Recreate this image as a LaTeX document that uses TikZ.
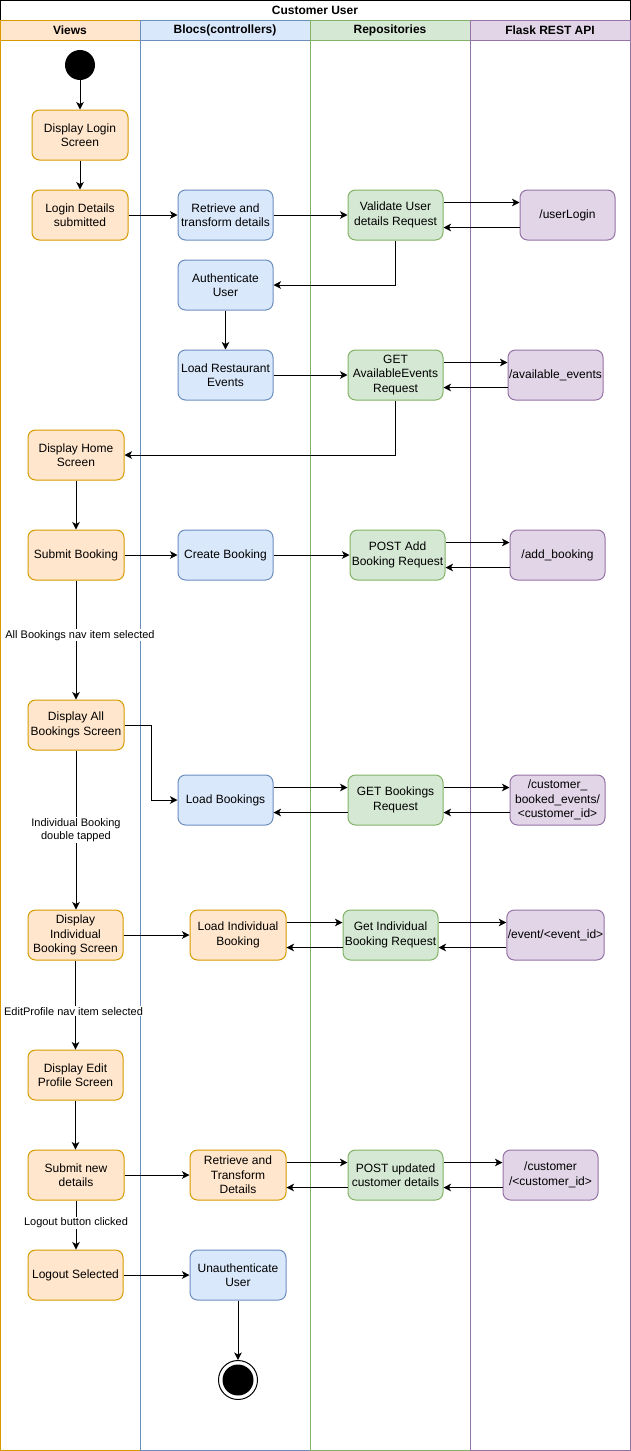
\documentclass[tikz,border=0pt]{standalone}
\usepackage{fontspec}
\setmainfont{Liberation Sans}
\usetikzlibrary{arrows.meta}

% lane and activity colours
\definecolor{orangeFill}{HTML}{FFE6CC}
\definecolor{orangeLine}{HTML}{D79B00}
\definecolor{blueFill}{HTML}{DAE8FC}
\definecolor{blueLine}{HTML}{6C8EBF}
\definecolor{greenFill}{HTML}{D5E8D4}
\definecolor{greenLine}{HTML}{82B366}
\definecolor{purpleFill}{HTML}{E1D5E7}
\definecolor{purpleLine}{HTML}{9673A6}

\tikzset{
  act/.style={rounded corners=7.5pt, minimum width=95pt, minimum height=50pt,
    inner sep=1pt, align=center, line width=1pt,
    font=\fontsize{12}{14.5}\selectfont},
  viewact/.style={act, draw=orangeLine, fill=orangeFill, minimum width=96pt},
  blocact/.style={act, draw=blueLine, fill=blueFill},
  repoact/.style={act, draw=greenLine, fill=greenFill},
  apiact/.style={act, draw=purpleLine, fill=purpleFill},
  lanehead/.style={font=\bfseries\fontsize{12}{14}\selectfont},
  flow/.style={line width=1pt, -{Stealth[length=7.5pt,width=7.5pt,inset=2pt]}},
  guard/.style={fill=white, inner sep=1pt, align=center,
    font=\fontsize{11}{13.5}\selectfont},
}

\begin{document}
\begin{tikzpicture}[x=1pt, y=-1pt]
\useasboundingbox (0,0) rectangle (631,1451);
\fill[white] (0,0) rectangle (631,1451);

% pool title
\draw[line width=1pt] (0,0) rectangle (630,20);
\node[lanehead] (pooltitle) at (315,10) {Customer User};

% swimlanes
\draw[line width=1pt, draw=orangeLine, fill=orangeFill] (0,20) rectangle (140,40);
\draw[line width=1pt, draw=orangeLine] (0,40) rectangle (140,1450);
\node[lanehead] (hviews) at (70,30) {Views};

\draw[line width=1pt, draw=blueLine, fill=blueFill] (140,20) rectangle (310,40);
\draw[line width=1pt, draw=blueLine] (140,40) rectangle (310,1450);
\node[lanehead] (hblocs) at (225,30) {Blocs(controllers)};

\draw[line width=1pt, draw=greenLine, fill=greenFill] (310,20) rectangle (470,40);
\draw[line width=1pt, draw=greenLine] (310,40) rectangle (470,1450);
\node[lanehead] (hrepos) at (390,30) {Repositories};

\draw[line width=1pt, draw=purpleLine, fill=purpleFill] (470,20) rectangle (630,40);
\draw[line width=1pt, draw=purpleLine] (470,40) rectangle (630,1450);
\node[lanehead] (hapi) at (550,30) {Flask REST API};

% initial state
\node[circle, fill=black, minimum size=30pt, inner sep=0pt] (start) at (80,65) {};

% login
\node[viewact] (dls) at (80,135) {Display Login\\Screen};
\node[viewact] (lds) at (80,215) {Login Details\\submitted};
\node[blocact] (rtd) at (225.5,215) {Retrieve and\\transform details};
\node[repoact] (vud) at (395.5,215) {Validate User\\details Request};
\node[apiact] (ulogin) at (567.5,215) {/userLogin};
\node[blocact] (auth) at (225.5,285) {Authenticate\\User};

% home screen
\node[blocact] (lre) at (225.5,375) {Load Restaurant\\Events};
\node[repoact] (gae) at (395.5,375) {GET\\AvailableEvents\\Request};
\node[apiact] (avev) at (555.5,375) {/available\_events};
\node[viewact] (dhs) at (76,455) {Display Home\\Screen};

% booking
\node[viewact] (sb) at (76,555) {Submit Booking};
\node[blocact] (cb) at (225.5,555) {Create Booking};
\node[repoact] (pab) at (397.5,555) {POST Add\\Booking Request};
\node[apiact] (addb) at (557.5,555) {/add\_booking};

% all bookings
\node[viewact] (dab) at (76,725) {Display All\\Bookings Screen};
\node[blocact] (lb) at (225.5,800) {Load Bookings};
\node[repoact] (gbr) at (395.5,800) {GET Bookings\\Request};
\node[apiact] (cbe) at (557.5,800) {/customer\_\\booked\_events/\\<customer\_id>};

% individual booking
\node[viewact, minimum width=95pt] (dib) at (75.5,935) {Display\\Individual\\Booking Screen};
\node[viewact] (lib) at (238,935) {Load Individual\\Booking};
\node[repoact] (gib) at (390.5,935) {Get Individual\\Booking Request};
\node[apiact] (evid) at (555.5,935) {/event/<event\_id>};

% edit profile
\node[viewact, minimum width=95pt] (deps) at (75.5,1075) {Display Edit\\Profile Screen};
\node[viewact] (snd) at (76,1175) {Submit new\\details};
\node[viewact] (rtd2) at (238,1175) {Retrieve and\\Transform\\Details};
\node[repoact] (puc) at (395.5,1175) {POST updated\\customer details};
\node[apiact] (cust) at (550.5,1175) {/customer\\/<customer\_id>};

% logout
\node[viewact, minimum width=95pt] (lsel) at (75.5,1275) {Logout Selected};
\node[blocact, minimum width=96pt] (unauth) at (238,1275) {Unauthenticate\\User};

% final state
\node[circle, draw, line width=1pt, fill=white, minimum size=39pt, inner sep=0pt] (final) at (238,1380) {};
\node[circle, fill=black, minimum size=31pt, inner sep=0pt] (finaldot) at (final.center) {};

% control flow
\draw[flow] (start) -- (dls);
\draw[flow] (dls) -- (lds);
\draw[flow] (lds) -- (rtd);
\draw[flow] (rtd) -- (vud);
\draw[flow] ([yshift=12.5pt]vud.east) -- ([yshift=12.5pt]ulogin.west);
\draw[flow] ([yshift=-12.5pt]ulogin.west) -- ([yshift=-12.5pt]vud.east);
\draw[flow] (vud.south) |- (auth.east);
\draw[flow] (auth) -- (lre);
\draw[flow] (lre) -- (gae);
\draw[flow] ([yshift=12.5pt]gae.east) -- ([yshift=12.5pt]avev.west);
\draw[flow] ([yshift=-12.5pt]avev.west) -- ([yshift=-12.5pt]gae.east);
\draw[flow] (gae.south) |- (dhs.east);
\draw[flow] (dhs) -- (sb);
\draw[flow] (sb) -- (cb);
\draw[flow] (cb) -- (pab);
\draw[flow] ([yshift=12.5pt]pab.east) -- ([yshift=12.5pt]addb.west);
\draw[flow] ([yshift=-12.5pt]addb.west) -- ([yshift=-12.5pt]pab.east);
\draw[flow] (sb) -- node[guard, pos=0.46, xshift=4pt] (g1) {All Bookings nav item selected} (dab);
\draw[flow] (dab.east) -- ++(27,0) |- (lb.west);
\draw[flow] ([yshift=12.5pt]lb.east) -- ([yshift=12.5pt]gbr.west);
\draw[flow] ([yshift=-12.5pt]gbr.west) -- ([yshift=-12.5pt]lb.east);
\draw[flow] ([yshift=12.5pt]gbr.east) -- ([yshift=12.5pt]cbe.west);
\draw[flow] ([yshift=-12.5pt]cbe.west) -- ([yshift=-12.5pt]gbr.east);
\draw[flow] (dab.south) -- node[guard, pos=0.5] (g2) {Individual Booking\\double tapped} (dab.south |- dib.north);
\draw[flow] (dib) -- (lib);
\draw[flow] ([yshift=12.5pt]lib.east) -- ([yshift=12.5pt]gib.west);
\draw[flow] ([yshift=-12.5pt]gib.west) -- ([yshift=-12.5pt]lib.east);
\draw[flow] ([yshift=12.5pt]gib.east) -- ([yshift=12.5pt]evid.west);
\draw[flow] ([yshift=-12.5pt]evid.west) -- ([yshift=-12.5pt]gib.east);
\draw[flow] (dib) -- node[guard, pos=0.57, xshift=-2pt] (g3) {EditProfile nav item selected} (deps);
\draw[flow] (deps.south) -- (deps.south |- snd.north);
\draw[flow] (snd) -- (rtd2);
\draw[flow] ([yshift=12.5pt]rtd2.east) -- ([yshift=12.5pt]puc.west);
\draw[flow] ([yshift=-12.5pt]puc.west) -- ([yshift=-12.5pt]rtd2.east);
\draw[flow] ([yshift=12.5pt]puc.east) -- ([yshift=12.5pt]cust.west);
\draw[flow] ([yshift=-12.5pt]cust.west) -- ([yshift=-12.5pt]puc.east);
\draw[flow] (snd.south) -- node[guard, pos=0.46] (g4) {Logout button clicked} (snd.south |- lsel.north);
\draw[flow] (lsel) -- (unauth);
\draw[flow] (unauth) -- (final);
\end{tikzpicture}
\end{document}
